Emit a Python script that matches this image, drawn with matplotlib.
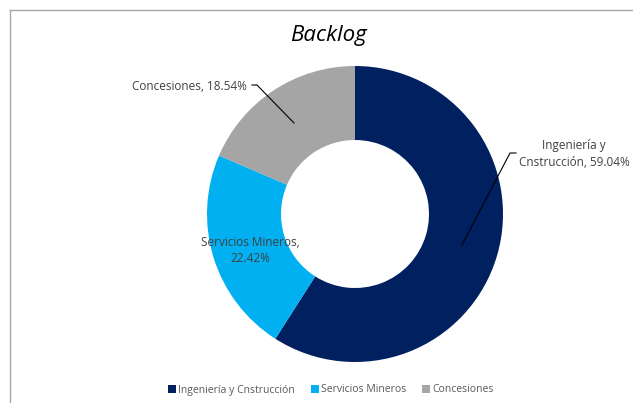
import matplotlib
matplotlib.use('Agg')
import matplotlib.pyplot as plt
from matplotlib.patches import Patch
from matplotlib.lines import Line2D

# data
labels = ['Ingeniería y Cnstrucción', 'Servicios Mineros', 'Concesiones']
shares = [59.04, 22.42, 18.54]
colors = ['#002060', '#00B0F0', '#A5A5A5']

plt.rcParams['font.family'] = ['Open Sans', 'DejaVu Sans']

W, H = 633, 403
fig = plt.figure(figsize=(W / 100, H / 100), dpi=100)

# pie centre (355, 214) px, radius 148 px
cx, cy, r = 355, 214, 148
ax = fig.add_axes([(cx - r) / W, (H - cy - r) / H, 2 * r / W, 2 * r / H])
ax.pie(shares, colors=colors, startangle=90, counterclock=False,
       radius=1.0, wedgeprops=dict(width=0.5, edgecolor='none'))
ax.set_xlim(-1, 1)
ax.set_ylim(-1, 1)
ax.set_aspect('equal')
ax.axis('off')


def px(x, y):
    # pixel -> data coords of the pie axes
    return ((x - cx) / r, (cy - y) / r)


lab_col = '#404040'
fs = 8.5

# Ingenieria label with leader
ax.text(*px(574, 154), f'Ingeniería y\nCnstrucción, {shares[0]:.2f}%', ha='center', va='center',
        fontsize=fs, color=lab_col, linespacing=1.3)
ax.plot(*zip(px(516, 153), px(510, 153), px(462, 245)), color='black', lw=0.8, clip_on=False)

# Servicios label inside slice
ax.text(*px(250, 250), f'Servicios Mineros,\n{shares[1]:.2f}%', ha='center', va='center',
        fontsize=fs, color=lab_col, linespacing=1.3)

# Concesiones label with leader
ax.text(*px(247, 86), f'Concesiones, {shares[2]:.2f}%', ha='right', va='center',
        fontsize=fs, color=lab_col)
ax.plot(*zip(px(252, 85), px(257, 85), px(294, 123)), color='black', lw=0.8, clip_on=False)

# title
fig.text(328 / W, 1 - 36 / H, 'Backlog', ha='center', va='center',
         fontsize=16, style='italic', color='black')

# legend
handles = [Patch(facecolor=c, edgecolor='none') for c in colors]
fig.legend(handles, labels, loc='center', bbox_to_anchor=(331 / W, 1 - 390 / H),
           ncol=3, frameon=False, fontsize=7.5, labelcolor='#595959',
           handlelength=0.8, handleheight=0.8, handletextpad=0.2, columnspacing=1.5)

# chart frame (top and left edges visible)
fig.add_artist(Line2D([10 / W, 10 / W], [0, 1 - 10 / H], color='#A6A6A6', lw=1.0))
fig.add_artist(Line2D([10 / W, 632 / W], [1 - 10 / H, 1 - 10 / H], color='#A6A6A6', lw=1.0))

fig.savefig('out.png', dpi=100)
